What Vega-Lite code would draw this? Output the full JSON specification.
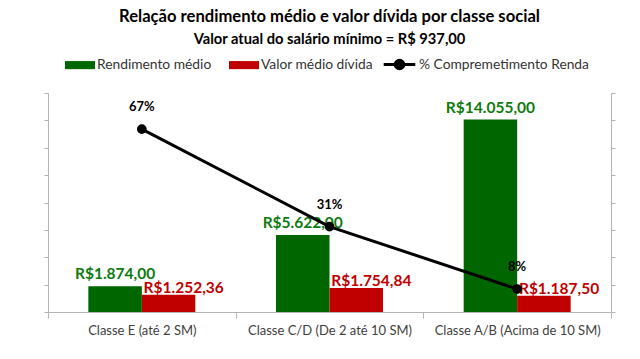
{
  "$schema": "https://vega.github.io/schema/vega-lite/v6.json",
  "width": 563,
  "height": 219,
  "autosize": "none",
  "padding": {"left": 48, "top": 93, "right": 29, "bottom": 47},
  "background": "white",
  "title": {
    "text": "Relação rendimento médio e valor dívida por classe social",
    "subtitle": "Valor atual do salário mínimo = R$ 937,00",
    "anchor": "middle",
    "frame": "group",
    "offset": 0,
    "font": "Lato",
    "subtitleFont": "Lato",
    "fontSize": 16.6,
    "subtitleFontSize": 14.7,
    "fontWeight": "bold",
    "subtitleFontWeight": "bold",
    "color": "black",
    "subtitleColor": "black",
    "subtitlePadding": 7
  },
  "config": {
    "view": {"stroke": null},
    "font": "Lato",
    "locale": {"number": {"decimal": ",", "thousands": ".", "grouping": [3], "currency": ["R$", ""]}}
  },
  "datasets": {
    "barras": [
      {"classe": "Classe E (até 2 SM)", "serie": "Rendimento médio", "valor": 1874.00},
      {"classe": "Classe E (até 2 SM)", "serie": "Valor médio dívida", "valor": 1252.36},
      {"classe": "Classe C/D (De 2 até 10 SM)", "serie": "Rendimento médio", "valor": 5622.00},
      {"classe": "Classe C/D (De 2 até 10 SM)", "serie": "Valor médio dívida", "valor": 1754.84},
      {"classe": "Classe A/B (Acima de 10 SM)", "serie": "Rendimento médio", "valor": 14055.00},
      {"classe": "Classe A/B (Acima de 10 SM)", "serie": "Valor médio dívida", "valor": 1187.50}
    ],
    "comprometimento": [
      {"classe": "Classe E (até 2 SM)", "pct": 0.668},
      {"classe": "Classe C/D (De 2 até 10 SM)", "pct": 0.312},
      {"classe": "Classe A/B (Acima de 10 SM)", "pct": 0.084}
    ]
  },
  "encoding": {
    "x": {
      "field": "classe",
      "type": "nominal",
      "sort": ["Classe E (até 2 SM)", "Classe C/D (De 2 até 10 SM)", "Classe A/B (Acima de 10 SM)"],
      "scale": {"paddingInner": 0, "paddingOuter": 0},
      "axis": {
        "title": null,
        "tickBand": "extent",
        "labelAngle": 0,
        "labelFontSize": 13,
        "labelColor": "#404040",
        "domainColor": "#b3b3b3",
        "tickColor": "#b3b3b3",
        "tickSize": 6,
        "labelPadding": 6
      }
    }
  },
  "layer": [
    {
      "data": {"name": "barras"},
      "encoding": {
        "y": {
          "field": "valor",
          "type": "quantitative",
          "scale": {"domain": [0, 16000]},
          "axis": {
            "orient": "left",
            "title": null,
            "values": [0, 2000, 4000, 6000, 8000, 10000, 12000, 14000, 16000],
            "labels": false,
            "grid": false,
            "domainColor": "#b3b3b3",
            "tickColor": "#b3b3b3",
            "tickSize": 4
          }
        },
        "xOffset": {
          "field": "serie",
          "type": "nominal",
          "scale": {"domain": ["Rendimento médio", "Valor médio dívida"], "paddingInner": 0, "paddingOuter": 0.754}
        }
      },
      "layer": [
        {
          "mark": {"type": "bar"},
          "encoding": {
            "color": {
              "field": "serie",
              "type": "nominal",
              "scale": {"domain": ["Rendimento médio", "Valor médio dívida"], "range": ["#006600", "#c00000"]},
              "legend": {
                "orient": "none",
                "legendX": 17,
                "legendY": -43,
                "direction": "horizontal",
                "title": null,
                "symbolType": "M-1,-0.27H1V0.27H-1Z",
                "symbolSize": 900,
                "symbolStrokeWidth": 0,
                "labelFontSize": 13.8,
                "labelColor": "#333333",
                "labelOffset": 2,
                "labelLimit": 300,
                "columnPadding": 17
              }
            }
          }
        },
        {
          "transform": [{"filter": "datum.serie == 'Rendimento médio'"}],
          "mark": {"type": "text", "align": "center", "baseline": "alphabetic", "dy": -7, "fontSize": 15.5, "fontWeight": "bold", "color": "#0f7a0f"},
          "encoding": {"text": {"field": "valor", "type": "quantitative", "format": "$,.2f"}}
        },
        {
          "transform": [{"filter": "datum.serie == 'Valor médio dívida'"}],
          "mark": {"type": "text", "align": "left", "baseline": "alphabetic", "dx": -25, "dy": -2, "fontSize": 15.5, "fontWeight": "bold", "color": "#c00000"},
          "encoding": {"text": {"field": "valor", "type": "quantitative", "format": "$,.2f"}}
        }
      ]
    },
    {
      "data": {"name": "comprometimento"},
      "encoding": {
        "y": {
          "field": "pct",
          "type": "quantitative",
          "scale": {"domain": [0, 0.8]},
          "axis": {
            "orient": "right",
            "title": null,
            "values": [0, 0.1, 0.2, 0.3, 0.4, 0.5, 0.6, 0.7, 0.8],
            "labels": false,
            "grid": false,
            "domainColor": "#b3b3b3",
            "tickColor": "#b3b3b3",
            "tickSize": 4
          }
        }
      },
      "layer": [
        {
          "mark": {"type": "line", "strokeWidth": 3, "point": {"filled": true, "size": 60, "color": "black"}},
          "encoding": {
            "stroke": {
              "datum": "% Compremetimento Renda",
              "type": "nominal",
              "scale": {"range": ["black"]},
              "legend": {
                "orient": "none",
                "legendX": 334,
                "legendY": -46,
                "title": null,
                "symbolType": "M-1,0H1M-0.27,0A0.27,0.27,0,1,1,0.27,0A0.27,0.27,0,1,1,-0.27,0Z",
                "symbolSize": 1000,
                "symbolStrokeWidth": 3,
                "symbolFillColor": "black",
                "symbolStrokeColor": "black",
                "labelFontSize": 13.8,
                "labelColor": "#333333",
                "labelOffset": 2,
                "labelLimit": 300
              }
            }
          }
        },
        {
          "mark": {"type": "text", "align": "center", "baseline": "alphabetic", "dy": -18, "fontSize": 13, "fontWeight": "bold", "color": "black"},
          "encoding": {"text": {"field": "pct", "type": "quantitative", "format": ".0%"}}
        }
      ]
    }
  ],
  "resolve": {"scale": {"y": "independent"}}
}
